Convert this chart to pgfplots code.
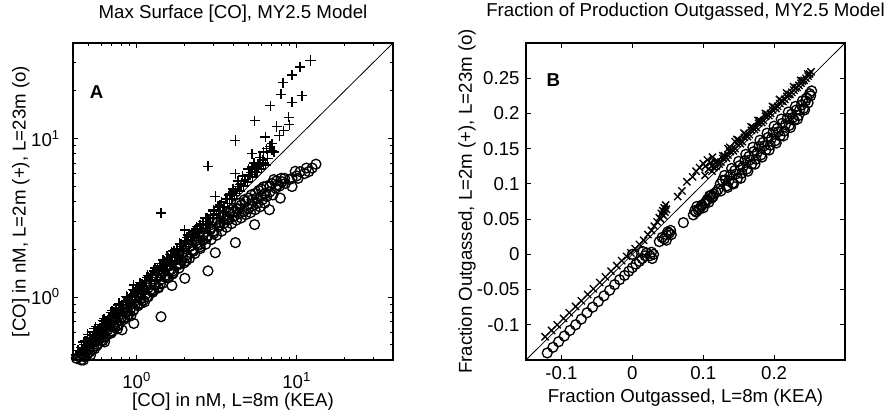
\documentclass[border=0pt]{standalone}
\usepackage{fontspec}
\setmainfont{Liberation Sans}
\usepackage{pgfplots}
\pgfplotsset{compat=1.18}
\begin{document}
\fontsize{14}{17}\selectfont
\begin{tikzpicture}
\useasboundingbox (0,0) rectangle (669.75pt,309.75pt);
\pgfplotsset{common/.style={
  scale only axis, height=237.75pt,
  axis line style={line width=0.8pt},
  tick style={black, line width=0.6pt},
  major tick length=4pt, minor tick length=2.5pt,
  tick align=inside,
  /pgf/number format/assume math mode=true,
  clip=true,
  title style={at={(axis description cs:0.5,1.067)}, anchor=center},
},
pmark/.style={only marks, mark=+, mark size=3.8pt, mark options={line width=1pt}},
omark/.style={only marks, mark=o, mark size=3.7pt, mark options={line width=1pt}},
xmark/.style={only marks, mark=x, mark size=3.8pt, mark options={line width=1pt}},
}
% ---------------- Panel A ----------------
\begin{axis}[common,
  at={(54.75pt,39.75pt)}, anchor=south west, width=240pt,
  xmode=log, ymode=log,
  xmin=0.4, xmax=40, ymin=0.4, ymax=40,
  xtick={1,10}, xticklabels={10\textsuperscript{0},10\textsuperscript{1}},
  ytick={1,10}, yticklabels={10\textsuperscript{0},10\textsuperscript{1}},
  minor xtick={0.5,0.6,0.7,0.8,0.9,2,3,4,5,6,7,8,9,20,30},
  minor ytick={0.5,0.6,0.7,0.8,0.9,2,3,4,5,6,7,8,9,20,30},
  xticklabel style={yshift=-4.5pt},
  yticklabel style={xshift=-5pt},
  title={Max Surface [CO], MY2.5 Model},
  xlabel={[CO] in nM, L=8m (KEA)},
  ylabel={[CO] in nM, L=2m (+), L=23m (o)},
  xlabel style={at={(axis description cs:0.5,-0.13)}, anchor=center},
  ylabel style={at={(axis description cs:-0.163,0.5)}, anchor=center},
]
\addplot[pmark] table {
x y
0.42 0.43
0.43 0.46
0.44 0.45
0.45 0.48
0.46 0.47
0.47 0.50
0.48 0.49
0.49 0.53
0.50 0.51
0.51 0.55
0.52 0.54
0.53 0.57
0.54 0.55
0.55 0.60
0.56 0.58
0.57 0.62
0.58 0.60
0.59 0.64
0.60 0.62
0.62 0.66
0.63 0.70
0.64 0.67
0.66 0.71
0.67 0.74
0.68 0.70
0.70 0.76
0.71 0.80
0.73 0.77
0.74 0.82
0.76 0.80
0.78 0.86
0.79 0.83
0.81 0.89
0.83 0.88
0.85 0.94
0.86 0.90
0.88 0.97
0.90 0.95
0.92 1.02
0.94 0.99
0.96 1.19
0.97 1.05
0.99 1.10
1.01 1.07
1.03 1.15
1.05 1.12
1.08 1.20
1.10 1.16
1.12 1.26
1.15 1.22
1.18 1.33
1.20 1.27
1.23 1.38
1.26 1.33
1.29 1.45
1.32 1.40
1.35 1.52
1.38 1.46
1.42 3.38
1.42 1.58
1.45 1.53
1.49 1.68
1.52 1.61
1.56 1.75
1.60 1.70
1.62 1.86
1.64 1.84
1.68 1.78
1.72 1.95
1.76 1.87
1.80 2.03
1.85 1.97
1.90 2.15
1.95 2.08
2.00 2.64
2.00 2.26
2.05 2.18
2.10 2.38
2.16 2.30
2.22 2.52
2.28 2.42
2.34 2.66
2.40 2.55
2.47 2.82
2.54 2.70
2.61 2.98
2.68 2.86
2.75 3.15
2.79 6.68
2.83 3.00
2.90 3.32
2.98 3.16
3.06 3.50
3.10 4.30
3.14 3.33
3.22 3.72
3.30 3.50
3.40 3.95
3.50 3.70
3.60 4.15
3.70 3.90
3.80 4.40
3.90 4.10
4.00 4.60
4.14 9.70
4.14 6.00
4.10 4.35
4.25 4.80
4.40 4.65
4.50 5.20
4.65 5.00
4.80 5.50
4.95 5.30
5.10 5.90
5.26 8.00
5.26 6.60
5.30 5.70
5.46 12.96
5.50 6.20
5.65 6.10
5.80 6.70
6.00 6.40
6.20 8.20
6.20 7.00
6.37 10.2
6.40 6.80
6.60 7.50
6.85 16.1
7.00 9.26
7.00 8.40
7.20 8.20
7.50 11.9
7.80 10.4
8.00 19.0
8.20 22.5
8.30 11.2
8.90 13.6
9.00 12.2
9.35 25.1
9.35 16.9
10.5 28.2
10.8 18.6
12.2 31.0
0.455 0.47
0.475 0.53
0.495 0.58
0.515 0.53
0.535 0.60
0.555 0.65
0.575 0.59
0.60 0.67
0.625 0.73
0.65 0.67
0.675 0.75
0.70 0.82
0.725 0.75
0.75 0.84
0.775 0.91
0.80 0.83
0.83 0.93
0.86 1.01
0.89 0.92
0.92 1.03
0.95 1.11
0.98 1.01
1.01 1.13
1.05 1.23
1.09 1.13
1.13 1.27
1.17 1.37
1.21 1.25
1.25 1.40
1.30 1.52
1.35 1.40
1.40 1.57
1.46 1.71
1.52 1.58
1.58 1.77
1.65 1.93
1.72 1.79
1.79 2.00
1.86 2.18
1.94 2.02
2.02 2.26
2.10 2.46
2.19 2.28
2.28 2.55
2.37 2.77
2.47 2.57
2.57 2.88
2.68 3.14
2.79 2.90
2.90 3.25
3.02 3.53
3.14 3.27
3.27 3.66
3.40 3.98
3.54 3.68
3.68 4.12
3.83 4.48
3.98 4.14
4.15 4.65
4.30 4.95
4.30 5.40
4.60 5.80
5.00 6.40
5.40 7.00
5.70 6.90
5.90 7.60
6.50 8.60
6.80 8.90
0.465 0.52
0.505 0.50
0.545 0.63
0.585 0.58
0.615 0.71
0.655 0.65
0.69 0.80
0.735 0.73
0.77 0.89
0.82 0.81
0.87 1.00
0.91 0.90
0.96 1.10
1.00 0.99
1.06 1.22
1.11 1.10
1.16 1.33
1.22 1.21
1.28 1.47
1.34 1.33
1.41 1.62
1.48 1.47
1.55 1.78
1.62 1.61
1.70 1.95
1.78 1.77
1.87 2.15
1.96 1.95
2.06 2.37
2.16 2.15
2.26 2.60
2.37 2.36
2.49 2.86
2.61 2.60
2.74 3.15
2.87 2.86
3.01 3.46
3.16 3.15
3.31 3.81
3.47 3.46
3.64 4.19
3.82 3.90
4.00 4.80
4.20 4.50
4.45 5.10
4.70 5.40
5.00 5.90
5.20 6.10
5.60 6.60
6.10 7.30
};
\addplot[omark] table {
x y
0.42 0.41
0.43 0.39
0.44 0.42
0.45 0.40
0.46 0.44
0.47 0.42
0.48 0.45
0.49 0.43
0.50 0.47
0.51 0.45
0.52 0.52
0.53 0.47
0.55 0.52
0.56 0.49
0.58 0.54
0.59 0.56
0.60 0.53
0.62 0.58
0.64 0.56
0.66 0.62
0.68 0.59
0.70 0.60
0.71 0.66
0.73 0.64
0.75 0.70
0.77 0.67
0.80 0.74
0.81 0.62
0.83 0.72
0.86 0.80
0.89 0.77
0.92 0.85
0.96 0.68
0.95 0.82
0.98 0.90
1.02 0.88
1.06 0.97
1.10 0.95
1.14 1.04
1.18 1.00
1.22 1.11
1.26 1.07
1.31 1.19
1.36 1.15
1.42 0.75
1.41 1.28
1.46 1.22
1.52 1.37
1.58 1.32
1.64 1.48
1.66 1.18
1.70 1.42
1.77 1.59
1.84 1.52
1.91 1.71
2.00 1.31
1.98 1.64
2.06 1.84
2.14 1.75
2.22 1.97
2.31 1.88
2.40 2.12
2.50 2.02
2.60 2.28
2.70 2.15
2.79 1.46
2.80 2.44
2.92 2.30
3.04 2.60
3.10 1.90
3.16 2.45
3.28 2.78
3.40 2.60
3.52 2.92
3.65 2.75
3.78 3.08
3.92 2.90
4.06 3.22
4.14 2.20
4.20 3.05
4.30 3.60
4.35 3.35
4.50 3.15
4.50 3.80
4.65 3.45
4.80 3.30
4.80 4.00
5.00 3.60
5.00 4.20
5.26 4.10
5.15 3.40
5.30 3.75
5.46 2.86
5.50 3.55
5.50 4.50
5.70 3.90
5.90 3.70
6.00 4.80
6.10 4.10
6.37 4.50
6.30 3.90
6.50 4.30
6.50 5.00
6.75 3.55
6.80 4.60
7.00 5.20
7.10 4.40
7.40 4.85
7.50 5.40
7.90 4.20
7.80 5.00
8.00 5.60
8.10 5.33
8.50 5.20
9.00 5.50
9.35 5.60
9.35 4.97
10.0 5.80
10.5 6.17
11.2 6.00
11.9 6.17
13.2 6.88
0.455 0.44
0.475 0.42
0.495 0.46
0.515 0.43
0.54 0.52
0.57 0.50
0.60 0.55
0.63 0.52
0.66 0.64
0.69 0.61
0.72 0.66
0.76 0.63
0.80 0.78
0.84 0.74
0.88 0.81
0.92 0.76
0.97 0.94
1.02 0.90
1.07 0.98
1.12 0.93
1.18 1.14
1.24 1.09
1.30 1.20
1.37 1.14
1.44 1.40
1.51 1.33
1.59 1.46
1.67 1.39
1.76 1.71
1.85 1.63
1.94 1.78
2.04 1.69
2.15 2.09
2.26 1.99
2.37 2.18
2.49 2.07
2.62 2.54
2.75 2.42
2.89 2.66
3.04 2.52
3.19 3.09
3.35 2.95
3.52 3.24
3.70 3.07
3.90 3.55
4.10 3.45
4.40 3.90
4.70 4.10
5.20 4.40
5.80 4.70
6.20 4.95
7.20 5.50
0.465 0.40
0.505 0.50
0.545 0.47
0.585 0.58
0.615 0.53
0.655 0.65
0.69 0.59
0.735 0.73
0.77 0.66
0.82 0.81
0.87 0.75
0.91 0.90
0.96 0.83
1.00 0.99
1.06 0.91
1.11 1.10
1.16 1.00
1.22 1.20
1.28 1.10
1.34 1.32
1.41 1.21
1.48 1.45
1.55 1.33
1.62 1.58
1.70 1.46
1.78 1.73
1.87 1.61
1.96 1.90
2.06 1.77
2.16 2.08
2.26 1.94
2.37 2.27
2.49 2.14
2.61 2.48
2.74 2.36
2.87 2.70
3.01 2.59
3.16 2.95
3.31 2.85
3.47 3.20
3.64 3.13
3.82 3.40
4.00 3.44
4.20 3.60
5.60 4.20
6.00 4.30
6.80 5.00
7.60 5.10
8.40 5.60
9.80 6.20
10.2 5.60
11.5 6.50
12.5 6.50
};
\addplot[black, line width=0.6pt] coordinates {(0.4,0.4) (40,40)};
\node[font=\bfseries] at (rel axis cs:0.074,0.846) {A};
\end{axis}
% ---------------- Panel B ----------------
\begin{axis}[common,
  at={(394.5pt,39.75pt)}, anchor=south west, width=239.25pt,
  xmin=-0.15, xmax=0.3, ymin=-0.15, ymax=0.3,
  xtick={-0.1,0,0.1,0.2}, xticklabels={-0.1,0,0.1,0.2},
  ytick={-0.1,-0.05,0,0.05,0.1,0.15,0.2,0.25},
  yticklabels={-0.1,-0.05,0,0.05,0.1,0.15,0.2,0.25},
  title={Fraction of Production Outgassed, MY2.5 Model},
  title style={at={(axis description cs:0.5,1.073)}},
  xlabel={Fraction Outgassed, L=8m (KEA)},
  ylabel={Fraction Outgassed, L=2m (+), L=23m (o)},
  xlabel style={at={(axis description cs:0.5,-0.12)}, anchor=center},
  ylabel style={at={(axis description cs:-0.185,0.5)}, anchor=center},
]
\addplot[xmark] table {
x y
-0.123 -0.117
-0.114 -0.108
-0.106 -0.100
-0.097 -0.091
-0.089 -0.083
-0.080 -0.074
-0.072 -0.066
-0.063 -0.057
-0.055 -0.049
-0.046 -0.040
-0.038 -0.032
-0.030 -0.024
-0.022 -0.016
-0.015 -0.009
-0.008 -0.003
-0.002 0.002
0.004 0.008
0.010 0.014
0.016 0.020
0.022 0.028
0.027 0.034
0.031 0.040
0.035 0.046
0.038 0.052
0.041 0.058
0.043 0.062
0.045 0.066
0.047 0.070
0.044 0.055
0.040 0.050
0.046 0.060
0.048 0.064
0.064 0.082
0.070 0.090
0.077 0.103
0.085 0.110
0.090 0.118
0.095 0.123
0.100 0.129
0.103 0.125
0.106 0.134
0.110 0.130
0.113 0.138
0.115 0.123
0.118 0.125
0.120 0.132
0.125 0.131
0.128 0.136
0.130 0.140
0.135 0.141
0.135 0.150
0.138 0.146
0.140 0.150
0.145 0.150
0.145 0.160
0.148 0.157
0.150 0.162
0.155 0.160
0.158 0.166
0.160 0.170
0.165 0.170
0.168 0.176
0.170 0.180
0.175 0.180
0.178 0.186
0.180 0.190
0.185 0.190
0.188 0.196
0.190 0.199
0.195 0.200
0.198 0.205
0.200 0.209
0.205 0.210
0.208 0.214
0.210 0.218
0.215 0.220
0.218 0.224
0.220 0.227
0.225 0.230
0.228 0.233
0.230 0.236
0.235 0.240
0.238 0.243
0.240 0.246
0.245 0.250
0.248 0.253
0.250 0.256
0.252 0.259
0.1025 0.112
0.1075 0.121
0.1125 0.118
0.1175 0.130
0.1225 0.128
0.1275 0.140
0.1325 0.137
0.1375 0.152
0.1425 0.147
0.1475 0.163
0.1525 0.157
0.1575 0.172
0.1625 0.167
0.1675 0.181
0.1725 0.177
0.1775 0.190
0.1825 0.187
0.1875 0.200
0.1925 0.197
0.1975 0.210
0.2025 0.207
0.2075 0.220
0.2125 0.217
0.2175 0.229
0.2225 0.227
0.2275 0.238
0.2325 0.237
0.2375 0.247
0.2425 0.247
0.2475 0.256
};
\addplot[omark] table {
x y
-0.120 -0.140
-0.112 -0.132
-0.104 -0.124
-0.096 -0.116
-0.088 -0.108
-0.080 -0.100
-0.072 -0.092
-0.064 -0.083
-0.056 -0.075
-0.048 -0.067
-0.040 -0.059
-0.032 -0.051
-0.025 -0.043
-0.018 -0.036
-0.011 -0.030
-0.005 -0.024
0.000 -0.019
0.005 -0.014
0.010 -0.010
0.014 -0.006
0.018 -0.002
0.000 0.000
0.015 0.004
0.020 0.002
0.025 -0.002
0.027 0.003
0.030 0.000
0.028 -0.006
0.038 0.018
0.042 0.024
0.045 0.022
0.048 0.028
0.050 0.032
0.052 0.030
0.054 0.034
0.055 0.028
0.048 0.020
0.072 0.045
0.086 0.056
0.088 0.062
0.090 0.060
0.091 0.068
0.093 0.063
0.095 0.065
0.097 0.068
0.098 0.070
0.100 0.066
0.102 0.072
0.104 0.075
0.106 0.078
0.108 0.074
0.109 0.083
0.111 0.084
0.112 0.080
0.114 0.082
0.115 0.086
0.118 0.088
0.118 0.127
0.121 0.092
0.124 0.100
0.125 0.090
0.127 0.105
0.130 0.112
0.133 0.097
0.136 0.104
0.140 0.122
0.143 0.100
0.146 0.114
0.150 0.132
0.153 0.108
0.156 0.124
0.160 0.142
0.163 0.118
0.166 0.134
0.170 0.152
0.173 0.128
0.176 0.144
0.180 0.162
0.183 0.138
0.186 0.154
0.190 0.172
0.193 0.148
0.196 0.164
0.200 0.182
0.203 0.158
0.206 0.174
0.210 0.192
0.213 0.168
0.216 0.184
0.220 0.202
0.223 0.180
0.226 0.194
0.230 0.210
0.233 0.192
0.236 0.205
0.240 0.218
0.243 0.205
0.246 0.222
0.248 0.215
0.250 0.228
0.253 0.232
0.1315 0.106
0.1345 0.095
0.1385 0.113
0.1415 0.101
0.1445 0.119
0.1485 0.108
0.1515 0.126
0.1545 0.115
0.1585 0.133
0.1615 0.121
0.1645 0.139
0.1685 0.128
0.1715 0.146
0.1745 0.135
0.1785 0.153
0.1815 0.141
0.1845 0.159
0.1885 0.148
0.1915 0.166
0.1945 0.155
0.1985 0.173
0.2015 0.161
0.2045 0.179
0.2085 0.168
0.2115 0.186
0.2145 0.175
0.2185 0.193
0.2215 0.183
0.2245 0.199
0.2285 0.190
0.2315 0.205
0.2345 0.197
0.2385 0.212
0.2415 0.207
0.2445 0.218
0.2515 0.225
};
\addplot[black, line width=0.6pt] coordinates {(-0.15,-0.15) (0.3,0.3)};
\node[font=\bfseries] at (rel axis cs:0.086,0.883) {B};
\end{axis}
\end{tikzpicture}
\end{document}
